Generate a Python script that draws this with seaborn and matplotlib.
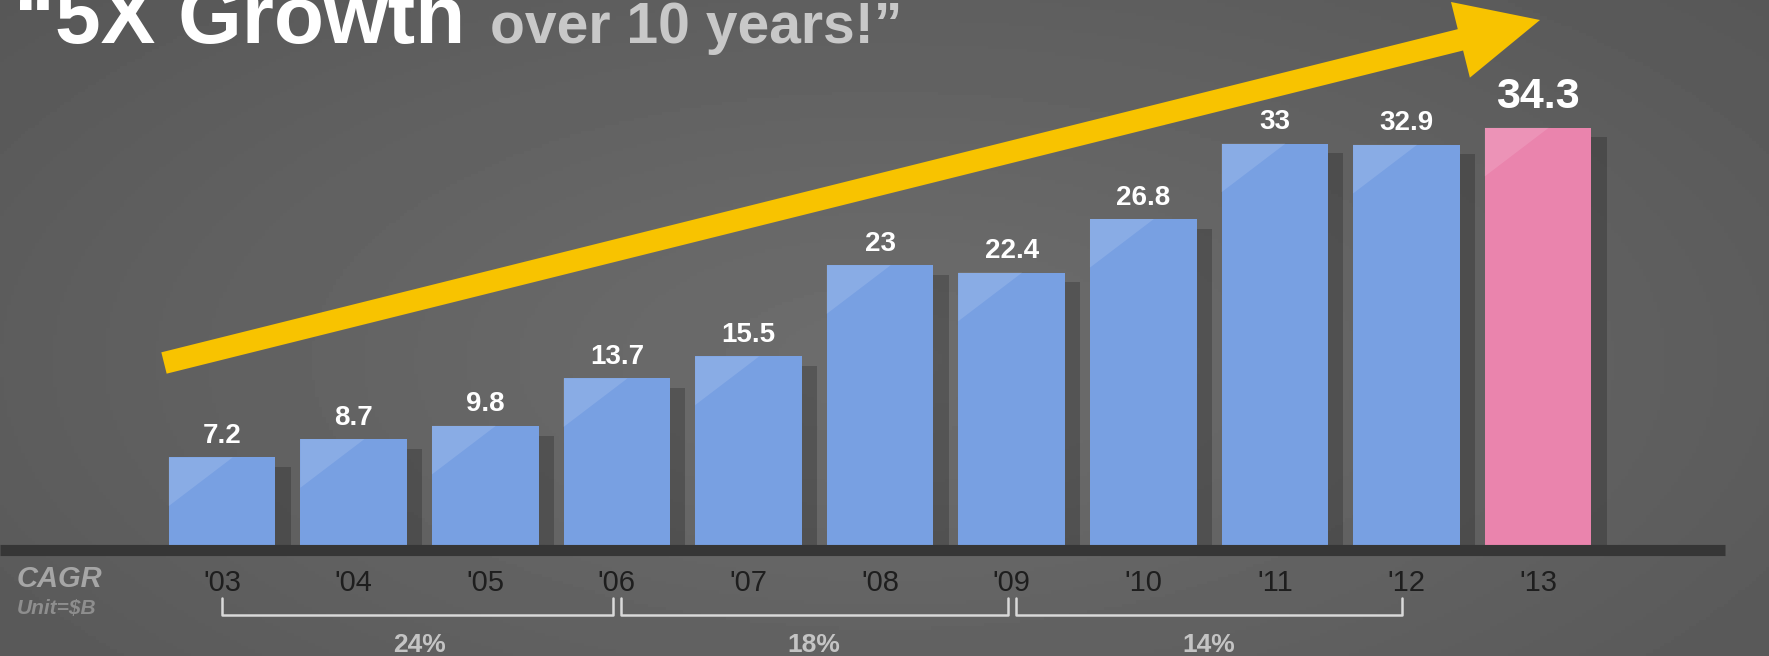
import matplotlib
matplotlib.use('Agg')
import matplotlib.pyplot as plt
import seaborn as sns
import numpy as np
import pandas as pd
from matplotlib import patheffects
from matplotlib.patches import FancyArrow
from matplotlib.lines import Line2D
from matplotlib.transforms import blended_transform_factory

# data
years = ["'03", "'04", "'05", "'06", "'07", "'08", "'09", "'10", "'11", "'12", "'13"]
sales = [7.2, 8.7, 9.8, 13.7, 15.5, 23, 22.4, 26.8, 33, 32.9, 34.3]
cagr_labels = ['24%', '18%', '14%']
cagr_spans = [(0, 3), (3, 6), (6, 9)]

sns.set_style('dark')
plt.rcParams['font.family'] = ['Liberation Sans', 'DejaVu Sans']

W, H = 1769, 656
fig = plt.figure(figsize=(W / 100, H / 100), dpi=100)

# chalkboard-like grey background with soft vignette
bg = fig.add_axes([0, 0, 1, 1])
bg.axis('off')
yy, xx = np.mgrid[0:1:200j, 0:1:500j]
r = np.sqrt(((xx - 0.5) / 0.75) ** 2 + ((yy - 0.55) / 0.95) ** 2)
shade = 0.43 - 0.10 * r
bg.imshow(shade, cmap='gray', vmin=0, vmax=1, aspect='auto', extent=[0, 1, 0, 1])

ax = fig.add_axes([0, 111 / H, 1, 545 / H])
ax.patch.set_alpha(0)

df = pd.DataFrame({'year': years, 'sales': sales})
palette = ['#78a0e2'] * (len(years) - 1) + ['#ea84ad']
sns.barplot(data=df, x='year', y='sales', hue='year', palette=palette,
            legend=False, width=0.81, saturation=1, ax=ax)

ax.set_xlim(-1.687, 11.755)
ax.set_ylim(0, 44.8)
ax.set_xlabel('')
ax.set_ylabel('')
ax.set_yticks([])
ax.grid(False)
for s in ax.spines.values():
    s.set_visible(False)
ax.tick_params(axis='x', length=0, pad=17, labelsize=21, labelcolor='#1e1e1e')

shadow = [patheffects.SimplePatchShadow(offset=(11, -7), shadow_rgbFace='black', alpha=0.2),
          patheffects.Normal()]
for i, cont in enumerate(ax.containers):
    for p in cont:
        p.set_path_effects(shadow)
        p.set_edgecolor('none')
        # light sheen on the upper-left part of each bar
        x0, w, h = p.get_x(), p.get_width(), p.get_height()
        ax.fill([x0, x0 + w * 0.6, x0], [h, h, h - 4], color='white', alpha=0.13, lw=0)
    big = i == len(ax.containers) - 1
    ax.bar_label(cont, labels=[f'{sales[i]:g}'], padding=8 if big else 6,
                 fontsize=31 if big else 20, fontweight='bold', color='white')

# dark baseline band
fig.add_artist(Line2D([0, 0.975], [(H - 550) / H] * 2, lw=8, color='#363636',
                      transform=fig.transFigure, solid_capstyle='butt'))

# CAGR brackets
trans = blended_transform_factory(ax.transData, fig.transFigure)
y_line = (H - 615) / H
y_top = (H - 598) / H
for (a, b), lab in zip(cagr_spans, cagr_labels):
    xa = a + (0.03 if a > 0 else 0)
    xb = b - 0.03
    ax.plot([xa, xa, xb, xb], [y_top, y_line, y_line, y_top], transform=trans,
            color='#d9d9d9', lw=1.8, clip_on=False)
    ax.text((a + b) / 2, (H - 645) / H, lab, transform=trans, ha='center',
            va='center', fontsize=19, fontweight='bold', color='#c4c4c4')

fig.text(17 / W, (H - 579) / H, 'CAGR', fontsize=21, fontstyle='italic',
         fontweight='bold', color='#a6a6a6', va='center')
fig.text(17 / W, (H - 609) / H, 'Unit=$B', fontsize=15, fontstyle='italic',
         fontweight='bold', color='#8e8e8e', va='center')

# title, cut off at the top like the slide
fig.text(14 / W, (H - 43) / H, '\u201c5X Growth', fontsize=59, fontweight='bold',
         color='white', va='baseline')
fig.text(490 / W, (H - 43) / H, 'over 10 years!\u201d', fontsize=41, fontweight='bold',
         color='#c8c8c8', va='baseline')

# growth arrow (in inches from the lower-left corner)
x0, y0 = 1.64, (H - 363) / 100
x1, y1 = 15.40, (H - 20) / 100
arrow = FancyArrow(x0, y0, x1 - x0, y1 - y0, width=0.22, head_width=0.78,
                   head_length=0.82, length_includes_head=True, color='#f8c300',
                   lw=0, transform=fig.dpi_scale_trans)
fig.add_artist(arrow)

fig.savefig('out.png', dpi=100)
